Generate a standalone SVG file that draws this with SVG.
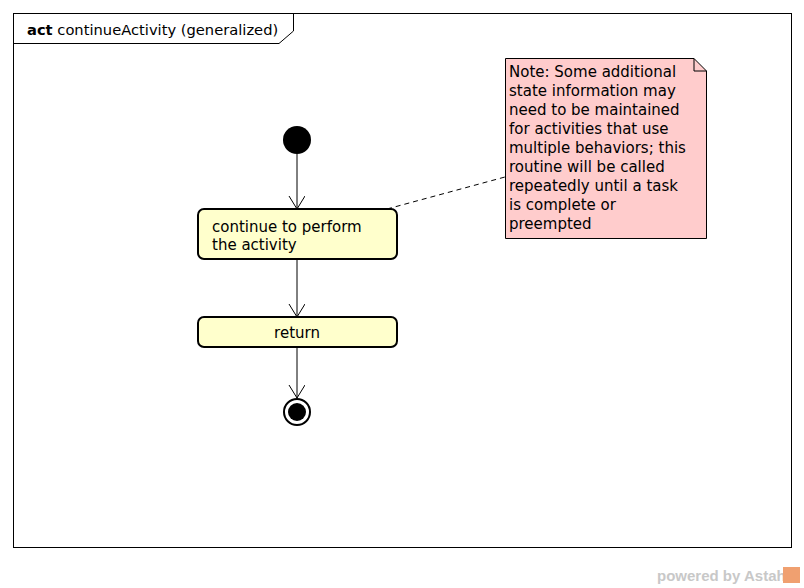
<svg xmlns="http://www.w3.org/2000/svg" width="804" height="588" viewBox="0 0 804 588">
<style>
text{font-family:"DejaVu Sans","Liberation Sans",sans-serif;font-size:15px;fill:#000}
.act{fill:#ffffcc;stroke:#000;stroke-width:2}
.edge{fill:none;stroke:#000;stroke-width:1}
</style>
<defs>
<marker id="open" markerWidth="20" markerHeight="20" refX="16" refY="8" orient="auto" markerUnits="userSpaceOnUse">
<path d="M3,0 L16,8 L3,16" fill="none" stroke="#000" stroke-width="1"/>
</marker>
</defs>
<rect width="804" height="588" fill="#fff"/>
<g id="frame">
<rect x="13.5" y="13.5" width="778" height="534" fill="none" stroke="#000" stroke-width="1"/>
<path d="M13.5,43.5 H279 L293.5,31 V13.5" fill="none" stroke="#000" stroke-width="1"/>
<text x="27" y="35" style="font-size:14.7px"><tspan font-weight="bold">act</tspan> continueActivity (generalized)</text>
</g>
<g id="connectors">
<line class="edge" x1="297" y1="154" x2="297" y2="209" marker-end="url(#open)"/>
<line class="edge" x1="297" y1="259" x2="297" y2="317" marker-end="url(#open)"/>
<line class="edge" x1="297" y1="347" x2="297" y2="398" marker-end="url(#open)"/>
<line class="edge" x1="387" y1="209" x2="505" y2="177" stroke-dasharray="5,4"/>
</g>
<g id="initial">
<circle cx="297" cy="140" r="14" fill="#000"/>
</g>
<g id="action1">
<rect class="act" x="198" y="209" width="199" height="50" rx="6"/>
<text x="212" y="232">continue to perform</text>
<text x="212" y="250">the activity</text>
</g>
<g id="action2">
<rect class="act" x="198" y="317" width="199" height="30" rx="6"/>
<text x="297" y="338" text-anchor="middle">return</text>
</g>
<g id="final">
<circle cx="297" cy="412" r="13" fill="#fff" stroke="#000" stroke-width="2"/>
<circle cx="297" cy="412" r="9" fill="#000"/>
</g>
<g id="note">
<path d="M505.5,58.5 H694 L706.5,71 V238.5 H505.5 Z" fill="#ffcccc" stroke="#000" stroke-width="1"/>
<path d="M694,58.5 V71 H706.5" fill="none" stroke="#000" stroke-width="1"/>
<text x="509" y="77">Note: Some additional</text>
<text x="509" y="96">state information may</text>
<text x="509" y="115">need to be maintained</text>
<text x="509" y="134">for activities that use</text>
<text x="509" y="153">multiple behaviors; this</text>
<text x="509" y="172">routine will be called</text>
<text x="509" y="191">repeatedly until a task</text>
<text x="509" y="210">is complete or</text>
<text x="509" y="229">preempted</text>
</g>
<g id="watermark">
<text x="657" y="581" style="font-family:'Liberation Sans',sans-serif;font-size:15px;font-weight:bold;fill:#c8c8c8">powered by Astah</text>
<rect x="783" y="567" width="17" height="16" fill="#f0a070"/>
</g>
</svg>
